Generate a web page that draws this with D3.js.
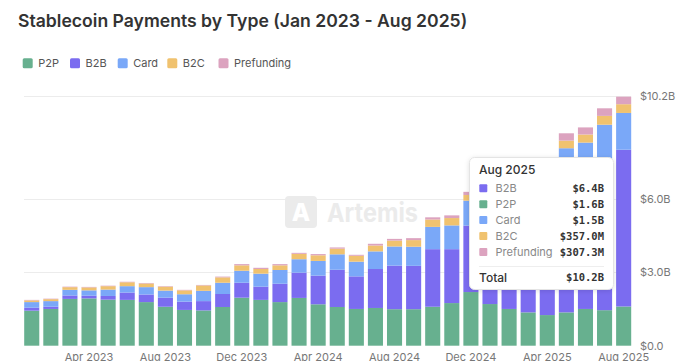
<!DOCTYPE html>
<html>
<head>
<meta charset="utf-8">
<script src="https://cdn.jsdelivr.net/npm/d3@7"></script>
<style>
  html, body { margin: 0; padding: 0; background: #fff; }
  svg { display: block; font-family: Inter, "Noto Sans", sans-serif; }
</style>
</head>
<body>
<svg id="chart" width="696" height="361"></svg>
<script>
const months = ["Jan 2023","Feb 2023","Mar 2023","Apr 2023","May 2023","Jun 2023","Jul 2023","Aug 2023","Sep 2023","Oct 2023","Nov 2023","Dec 2023",
  "Jan 2024","Feb 2024","Mar 2024","Apr 2024","May 2024","Jun 2024","Jul 2024","Aug 2024","Sep 2024","Oct 2024","Nov 2024","Dec 2024",
  "Jan 2025","Feb 2025","Mar 2025","Apr 2025","May 2025","Jun 2025","Jul 2025","Aug 2025"];
// values in $B
const p2p  = [1.43,1.50,1.91,1.93,1.88,1.87,1.78,1.59,1.46,1.44,1.58,1.96,1.87,1.78,1.95,1.69,1.58,1.50,1.54,1.49,1.49,1.59,1.74,2.19,1.70,1.50,1.36,1.25,1.36,1.50,1.45,1.60];
const b2b  = [0.12,0.09,0.14,0.11,0.15,0.30,0.31,0.37,0.34,0.38,0.53,0.61,0.54,0.75,1.03,1.17,1.52,1.33,1.59,1.78,1.77,2.35,2.20,2.71,3.20,3.20,3.90,4.40,5.70,5.59,6.12,6.40];
const card = [0.23,0.23,0.23,0.22,0.26,0.26,0.30,0.29,0.30,0.42,0.46,0.49,0.53,0.56,0.55,0.60,0.63,0.60,0.72,0.78,0.78,0.91,0.97,1.02,1.05,1.00,1.05,1.05,1.00,1.20,1.45,1.50];
const b2c  = [0.07,0.08,0.11,0.12,0.14,0.16,0.15,0.16,0.16,0.22,0.22,0.22,0.19,0.19,0.22,0.23,0.23,0.24,0.24,0.24,0.27,0.30,0.30,0.23,0.27,0.28,0.30,0.30,0.31,0.33,0.36,0.357];
const prefunding = [0.02,0.02,0.02,0.02,0.02,0.02,0.02,0.02,0.02,0.02,0.03,0.05,0.05,0.05,0.04,0.05,0.05,0.04,0.07,0.07,0.08,0.09,0.11,0.13,0.15,0.18,0.25,0.28,0.30,0.29,0.31,0.3073];

const seriesNames = ["P2P","B2B","Card","B2C","Prefunding"];
const seriesValues = [p2p, b2b, card, b2c, prefunding];
const colors = ["#67b08f","#7b6cf0","#7aa8f8","#f0c26f","#dca3bf"];
const yTicks = [0, 3, 6, 10.2];
const yTickLabels = ["$0.0","$3.0B","$6.0B","$10.2B"];
const xTickLabels = ["Apr 2023","Aug 2023","Dec 2023","Apr 2024","Aug 2024","Dec 2024","Apr 2025","Aug 2025"];
const tooltipMonth = "Aug 2025";
const tooltipOrder = ["B2B","P2P","Card","B2C","Prefunding"];

const svg = d3.select("#chart");

const table = months.map((m, i) => {
  const row = { month: m };
  seriesNames.forEach((s, k) => row[s] = seriesValues[k][i]);
  return row;
});

const x = d3.scaleBand().domain(months).range([24.2, 631.2]).paddingInner(0.21).paddingOuter(0);
const y = d3.scaleLinear().domain([0, 10.2]).range([345.7, 95.8]);
const color = d3.scaleOrdinal().domain(seriesNames).range(colors);

// Title
svg.append("text").attr("x", 18).attr("y", 26.5)
  .attr("font-size", 17.6).attr("font-weight", 600).attr("fill", "#333")
  .text("Stablecoin Payments by Type (Jan 2023 - Aug 2025)");

// Legend
const legend = svg.append("g");
const legendX = [22.7, 70, 117.7, 167.3, 218.5];
seriesNames.forEach((s, i) => {
  const g = legend.append("g").attr("transform", `translate(${legendX[i]},58.3)`);
  g.append("rect").attr("width", 10).attr("height", 10).attr("rx", 1.5).attr("fill", color(s));
  g.append("text").attr("x", 15.5).attr("y", 5).attr("dy", "0.35em")
    .attr("font-size", 11).attr("fill", "#555").text(s);
});

// Gridlines
svg.append("g").selectAll("line").data(yTicks.slice(1)).join("line")
  .attr("x1", 24).attr("x2", 631)
  .attr("y1", d => Math.round(y(d)) + 0.5).attr("y2", d => Math.round(y(d)) + 0.5)
  .attr("stroke", "#ececec").attr("stroke-width", 1);

// Watermark
const wm = svg.append("g");
wm.append("rect").attr("x", 285).attr("y", 196).attr("width", 32).attr("height", 32).attr("rx", 4).attr("fill", "#ebebeb");
wm.append("text").attr("x", 301).attr("y", 221).attr("text-anchor", "middle")
  .attr("font-size", 24).attr("font-weight", 800).attr("fill", "#fff").text("A");
wm.append("text").attr("x", 327).attr("y", 221.7)
  .attr("font-size", 26).attr("font-weight", 700).attr("fill", "#ebebeb")
  .attr("textLength", 91).attr("lengthAdjust", "spacingAndGlyphs").text("Artemis");

// Bars
const stacked = d3.stack().keys(seriesNames)(table);
svg.append("g").selectAll("g").data(stacked).join("g")
  .attr("fill", d => color(d.key))
  .selectAll("rect").data(d => d).join("rect")
  .attr("x", d => x(d.data.month))
  .attr("width", x.bandwidth())
  .attr("y", d => y(d[1]))
  .attr("height", d => Math.max(0, y(d[0]) - y(d[1])));

// Y axis (right)
const yAxis = d3.axisRight(y).tickValues(yTicks).tickFormat((d, i) => yTickLabels[i]).tickSize(0).tickPadding(0);
const yg = svg.append("g").attr("transform", "translate(640,0)").call(yAxis);
yg.select(".domain").remove();
yg.selectAll("text").attr("font-size", 11).attr("fill", "#777").attr("font-family", "Inter, sans-serif");

// X axis
const xAxis = d3.axisBottom(x).tickValues(xTickLabels).tickSize(0).tickPadding(0);
const xg = svg.append("g").attr("transform", "translate(0,353.5)").call(xAxis);
xg.select(".domain").remove();
xg.selectAll("text").attr("font-size", 11).attr("fill", "#777").attr("font-family", "Inter, sans-serif");

// Tooltip
const idx = months.indexOf(tooltipMonth);
const fmt = v => v >= 1 ? "$" + v.toFixed(1) + "B" : "$" + (v * 1000).toFixed(1) + "M";
const defs = svg.append("defs");
const f = defs.append("filter").attr("id", "sh").attr("x", "-20%").attr("y", "-20%").attr("width", "140%").attr("height", "140%");
f.append("feDropShadow").attr("dx", 0).attr("dy", 1).attr("stdDeviation", 2.5).attr("flood-color", "#000").attr("flood-opacity", 0.12);
const tt = svg.append("g");
tt.append("rect").attr("x", 469.5).attr("y", 157.5).attr("width", 144).attr("height", 132).attr("rx", 5)
  .attr("fill", "#fff").attr("stroke", "#e4e4e4").attr("filter", "url(#sh)");
tt.append("text").attr("x", 479).attr("y", 170).attr("dy", "0.35em")
  .attr("font-size", 12).attr("font-weight", 500).attr("fill", "#333").text(tooltipMonth);
let total = 0;
tooltipOrder.forEach((s, i) => {
  const v = seriesValues[seriesNames.indexOf(s)][idx];
  total += v;
  const cy = 188.3 + i * 15.9;
  tt.append("rect").attr("x", 479.3).attr("y", cy - 4).attr("width", 8).attr("height", 8).attr("rx", 1).attr("fill", color(s));
  tt.append("text").attr("x", 495.5).attr("y", cy).attr("dy", "0.35em")
    .attr("font-size", 11).attr("fill", "#888").text(s);
  tt.append("text").attr("x", 604).attr("y", cy).attr("dy", "0.35em").attr("text-anchor", "end")
    .attr("font-family", "'DejaVu Sans Mono', monospace").attr("font-size", 10.5).attr("font-weight", 700)
    .attr("fill", "#333").text(fmt(v));
});
tt.append("line").attr("x1", 479).attr("x2", 604).attr("y1", 266.5).attr("y2", 266.5).attr("stroke", "#eee");
tt.append("text").attr("x", 479).attr("y", 277.7).attr("dy", "0.35em")
  .attr("font-size", 12).attr("font-weight", 500).attr("fill", "#333").text("Total");
tt.append("text").attr("x", 604).attr("y", 277.7).attr("dy", "0.35em").attr("text-anchor", "end")
  .attr("font-family", "'DejaVu Sans Mono', monospace").attr("font-size", 10.5).attr("font-weight", 700)
  .attr("fill", "#333").text(fmt(total));
</script>
</body>
</html>
